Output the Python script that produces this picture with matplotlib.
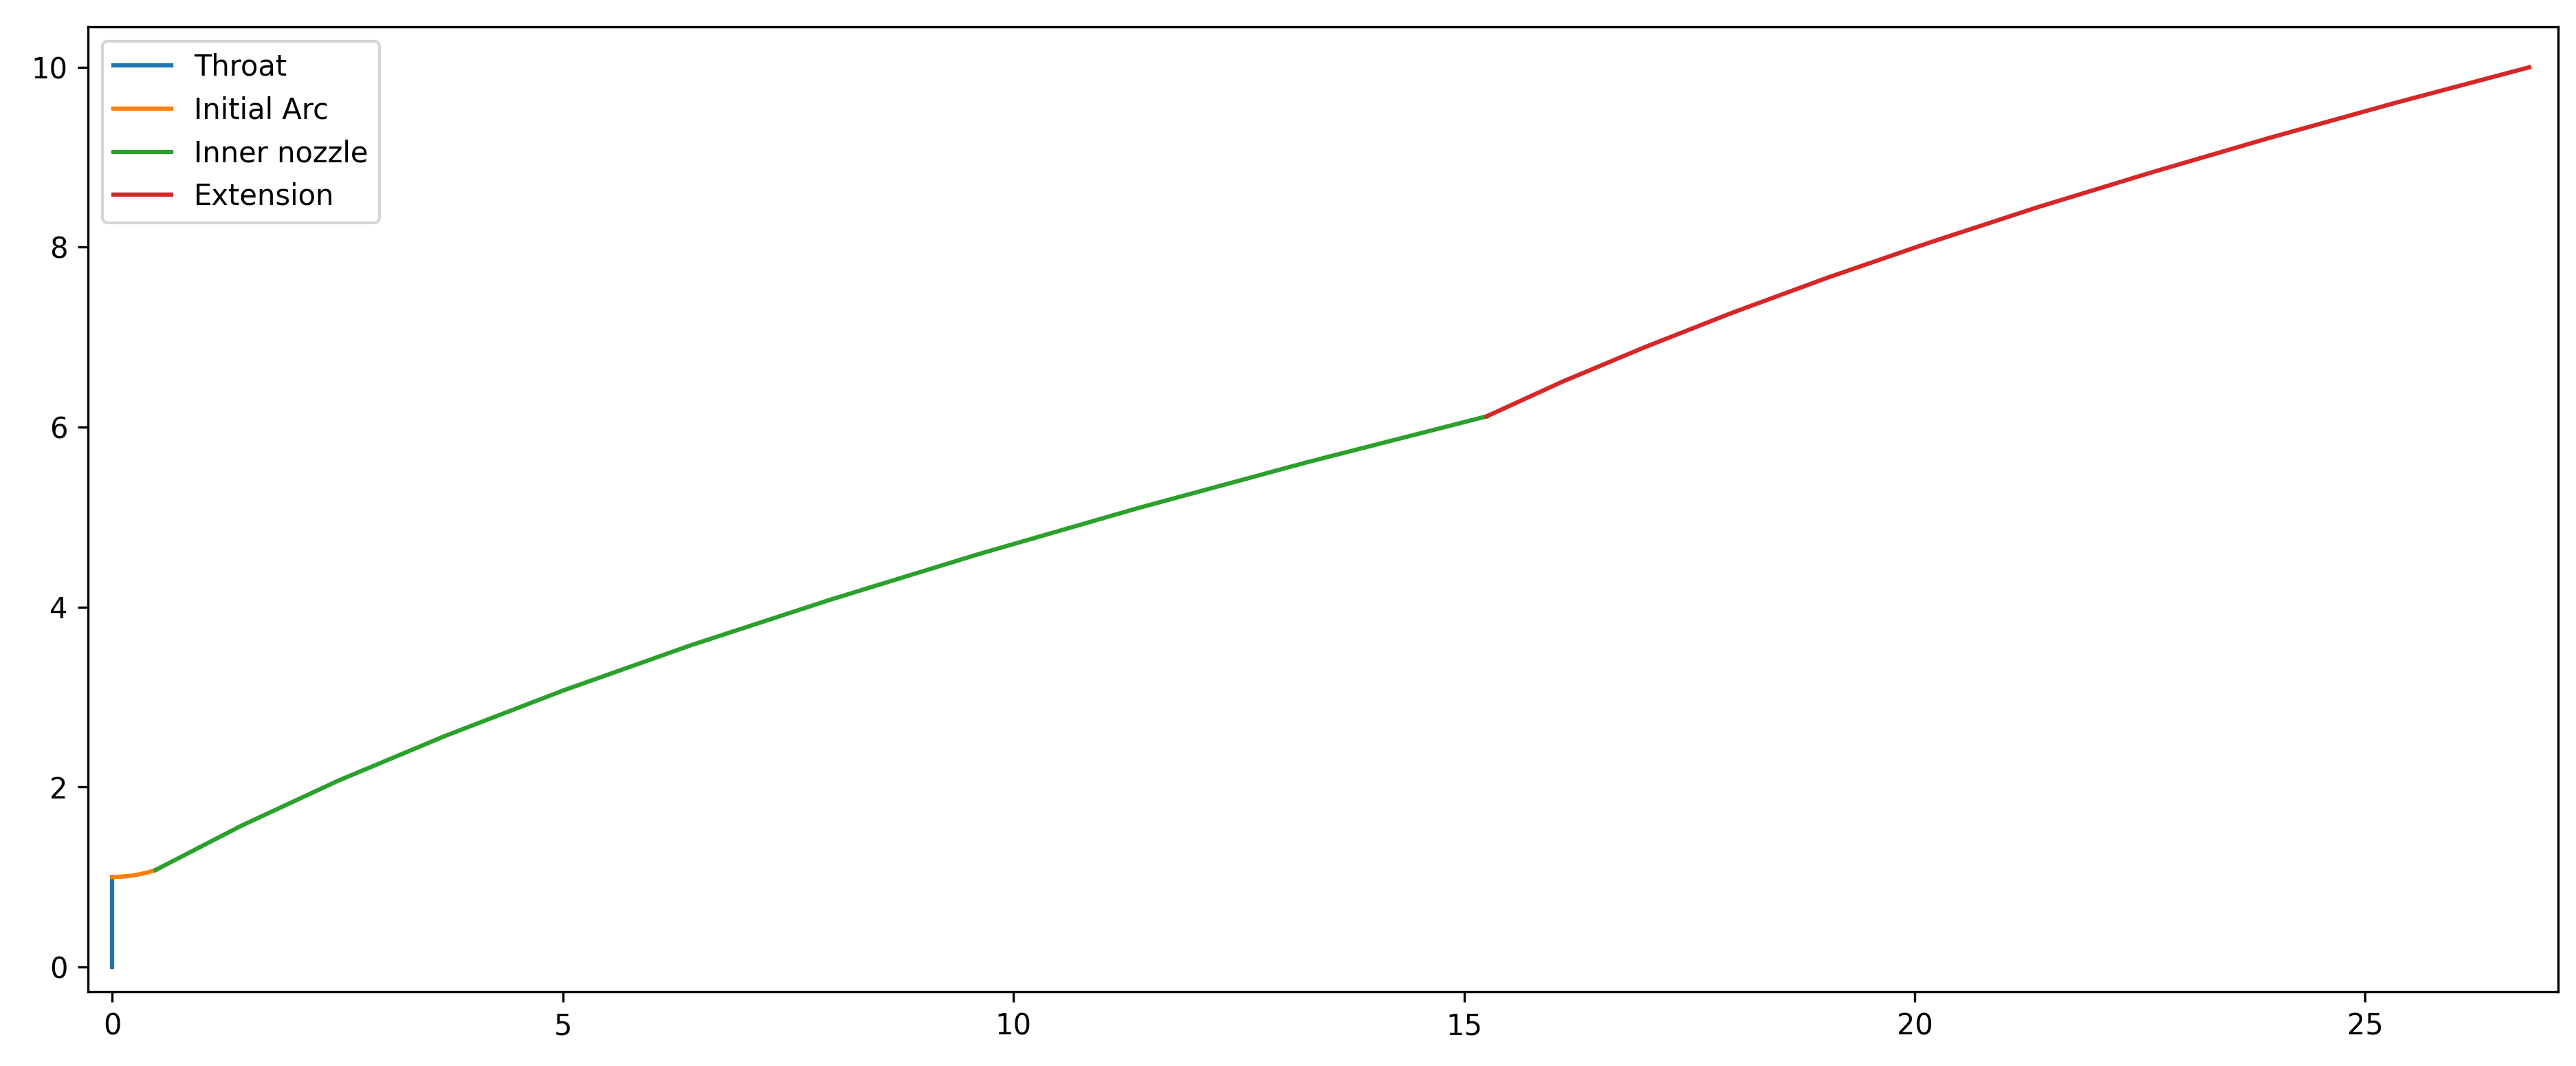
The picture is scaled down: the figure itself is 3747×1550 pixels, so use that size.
import matplotlib
matplotlib.use("Agg")
import matplotlib.pyplot as plt

# contour segments (x along axis, y radius)
throat_x = [0.0, 0.0]
throat_y = [0.0, 1.0]

arc_x = [0.0, 0.1, 0.2, 0.3, 0.4, 0.48]
arc_y = [1.0, 1.003, 1.013, 1.030, 1.053, 1.078]

inner_x = [0.48, 1.44, 2.51, 3.70, 5.00, 6.42, 7.96, 9.61, 11.37, 13.25, 15.25]
inner_y = [1.078, 1.574, 2.072, 2.571, 3.072, 3.576, 4.08, 4.588, 5.097, 5.608, 6.12]

ext_x = [15.25, 16.09, 17.01, 17.99, 19.04, 20.16, 21.35, 22.62, 23.95, 25.35, 26.82]
ext_y = [6.12, 6.505, 6.891, 7.277, 7.664, 8.05, 8.44, 8.829, 9.219, 9.609, 10.0]

fig = plt.figure(figsize=(12.493, 5.1667), dpi=300)
ax = fig.add_axes([0.03415, 0.06968, 0.99280 - 0.03415, 0.97484 - 0.06968])

ax.plot(throat_x, throat_y, label="Throat")
ax.plot(arc_x, arc_y, label="Initial Arc")
ax.plot(inner_x, inner_y, label="Inner nozzle")
ax.plot(ext_x, ext_y, label="Extension")

ax.set_xlim(-0.27, 27.14)
ax.set_ylim(-0.275, 10.45)
ax.legend(loc="upper left")

fig.savefig("out.png", dpi=300)
